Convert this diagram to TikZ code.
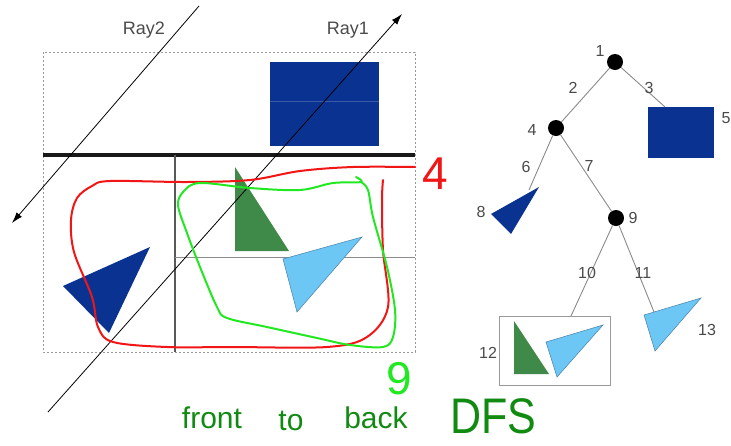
\documentclass[tikz,border=0pt]{standalone}
\usepackage{fontspec}
\setmainfont{Liberation Sans}
\usetikzlibrary{arrows.meta}
\definecolor{dblue}{HTML}{0A3391}
\definecolor{dbluel}{HTML}{3A5BA8}
\definecolor{lblue}{HTML}{6CC7F5}
\definecolor{lbluedraw}{HTML}{4A7FA8}
\definecolor{tgreen}{HTML}{3F8A48}
\definecolor{hgreen}{HTML}{118A11}
\definecolor{lime}{HTML}{22E822}
\definecolor{hred}{HTML}{F21515}
\definecolor{lab}{HTML}{4A4A4A}
\definecolor{edgegray}{HTML}{8A8A8A}
\begin{document}
\begin{tikzpicture}[x=1pt,y=-1pt,
  lbl/.style={text=lab,font=\fontsize{16}{16}\selectfont,inner sep=0},
  raylbl/.style={text=lab,font=\fontsize{18}{18}\selectfont,inner sep=0},
  ray/.style={line width=0.8pt,-{Latex[length=11pt,width=7pt]}},
  edge/.style={draw=edgegray,line width=0.9pt},
  dot/.style={circle,fill=black,minimum size=16pt,inner sep=0},
  hand/.style={inner sep=0,font=\fontsize{30}{30}\selectfont},
  loop/.style={line width=2pt,line join=round,line cap=round}]
\useasboundingbox (0,0) rectangle (731,445);

% ---------- left panel ----------
\draw[gray!80,line width=0.6pt,dash pattern=on 2pt off 2pt] (43,52) rectangle (415,352);
\fill[dblue] (270,62) rectangle (379,146);
\draw[dbluel,line width=0.5pt] (270,101) -- (379,101);
\draw[black!90,line width=3.5pt] (43,155) -- (415,155);
\draw[black!65,line width=2.4pt] (175,155) -- (175,352);
\draw[gray!90,line width=0.9pt] (175,257) -- (415,257);

\fill[tgreen] (235,167) -- (235,251) -- (289,251) -- cycle;
\filldraw[fill=lblue,draw=lbluedraw,line width=0.5pt] (283,259) -- (362,237) -- (297,312) -- cycle;
\fill[dblue] (63,286) -- (150,247) -- (109,333) -- cycle;

\coordinate (r1s) at (48,412);
\coordinate (r1e) at (402,14);
\coordinate (r2s) at (199,6);
\coordinate (r2e) at (12,223);
\draw[ray] (r1s) -- (r1e);
\draw[ray] (r2s) -- (r2e);
\node[raylbl] (ray2) at (144,30) {Ray2};
\node[raylbl] (ray1) at (348,30) {Ray1};

% red loop
\draw[hred,loop] plot[smooth,tension=0.55] coordinates {
 (415,167) (353,167) (300,171) (250,180) (187,182) (110,181) (92,186) (77,198)
 (71,220) (74,252) (92,297) (98,327) (113,342) (167,347) (233,347) (327,347)
 (367,337) (388,307) (383,250) (382,200) (383,180)};
% green loop
\draw[lime,loop] plot[smooth,tension=0.55] coordinates {
 (356,177) (361,182) (333,183) (300,190) (250,188) (200,183) (184,191) (178,205)
 (187,233) (200,267) (217,307) (227,318) (267,327) (317,338) (350,345) (383,347)
 (393,337) (395,310) (387,267) (373,217) (368,190) (361,182)};

\node[text=hred,inner sep=0,font=\fontsize{46}{46}\selectfont] (four) at (435,174) {4};
\node[text=lime,inner sep=0,font=\fontsize{46}{46}\selectfont] (nine) at (399,379) {9};

% handwriting
\node[hand,text=hgreen,anchor=base] (w1) at (212,428) {front};
\node[hand,text=hgreen,anchor=base] (w2) at (291,430) {to};
\node[hand,text=hgreen,anchor=base] (w3) at (376,428) {back};
\node[hand,text=hgreen,anchor=base,font=\fontsize{50}{50}\selectfont] (w4) at (493,433) {\scalebox{0.86}[1]{DFS}};

% ---------- tree ----------
\node[dot] (n1) at (615,62) {};
\node[dot] (n4) at (556,128) {};
\node[dot] (n9) at (616,218) {};
\node[fill=dblue,minimum width=66pt,minimum height=51pt,inner sep=0] (n5) at (681,132.5) {};
\node[draw=gray!80,line width=1pt,minimum width=111pt,minimum height=69pt,inner sep=0] (n12) at (554.5,350.5) {};

% triangles
\fill[dblue] (491,214) -- (539,187) -- (511,234) -- cycle;
\fill[tgreen] (514,321) -- (514,374) -- (549,374) -- cycle;
\filldraw[fill=lblue,draw=lbluedraw,line width=0.5pt] (546,342) -- (603,325) -- (557,377) -- cycle;
\filldraw[fill=lblue,draw=lbluedraw,line width=0.5pt] (644,315) -- (701,298) -- (655,351) -- cycle;

\coordinate (e5) at (665,107);
\coordinate (e8) at (529,190);
\coordinate (e12) at (571,316);
\coordinate (e13) at (654,312);

\draw[edge] (n1) -- (n4);
\draw[edge] (n1) -- (e5);
\draw[edge] (n4) -- (e8);
\draw[edge] (n4) -- (n9);
\draw[edge] (n9) -- (e12);
\draw[edge] (n9) -- (e13);

\node[lbl] (l1) at (600,51) {1};
\node[lbl] (l2) at (573,88) {2};
\node[lbl] (l3) at (649,88) {3};
\node[lbl] (l4) at (532,130) {4};
\node[lbl] (l5) at (726,118) {5};
\node[lbl] (l6) at (526,167) {6};
\node[lbl] (l7) at (589,166) {7};
\node[lbl] (l8) at (481,212) {8};
\node[lbl] (l9) at (633,218) {9};
\node[lbl] (l10) at (587,273) {10};
\node[lbl] (l11) at (643,273) {11};
\node[lbl] (l12) at (488,353) {12};
\node[lbl] (l13) at (707,330) {13};
\end{tikzpicture}
\end{document}
